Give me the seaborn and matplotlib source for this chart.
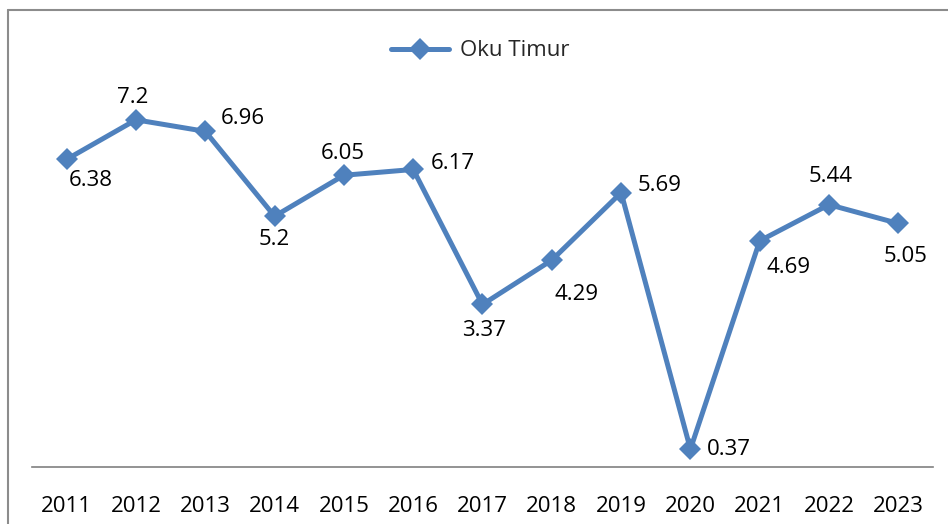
import pandas as pd
import numpy as np
import matplotlib.pyplot as plt
import seaborn as sns
from matplotlib.lines import Line2D

# data
years = ['2011', '2012', '2013', '2014', '2015', '2016', '2017',
         '2018', '2019', '2020', '2021', '2022', '2023']
values = [6.38, 7.2, 6.96, 5.2, 6.05, 6.17, 3.37, 4.29, 5.69, 0.37, 4.69, 5.44, 5.05]
series_name = 'Oku Timur'

# label offsets (points) and alignment
label_pos = [(17, -15, 'center'), (-2, 16, 'center'), (11, 9, 'left'),
             (0, -17, 'center'), (-1, 16, 'center'), (13, 4, 'left'),
             (1, -19, 'center'), (18, -25, 'center'), (12, 5, 'left'),
             (12, 0, 'left'), (21, -19, 'center'), (1, 20, 'center'),
             (5, -24, 'center')]

df = pd.DataFrame({'year': years, 'value': values, 'series': series_name})

sns.set_style('white')
plt.rcParams['font.family'] = ['Open Sans', 'DejaVu Sans']

color = '#4F81BD'
fig = plt.figure(figsize=(9.48, 5.24), dpi=100)
W, H = 948, 524
ax = fig.add_axes([32 / W, 1 - 467 / H, (933 - 32) / W, (467 - 33) / H])

sns.lineplot(data=df, x='year', y='value', hue='series', palette=[color],
             marker='D', markersize=11, linewidth=3.6, markeredgewidth=0,
             sort=False, ax=ax)

ax.set_xlim(-0.5, len(years) - 0.5)
ax.set_ylim(0, 9)
ax.set_xlabel('')
ax.set_ylabel('')
ax.set_yticks([])
ax.tick_params(axis='x', length=0, pad=21, labelsize=16, labelcolor='black')
for s in ['top', 'right', 'left']:
    ax.spines[s].set_visible(False)
ax.spines['bottom'].set_color('#808080')
ax.spines['bottom'].set_linewidth(1.2)

for i, (v, (dx, dy, ha)) in enumerate(zip(values, label_pos)):
    ax.annotate(f'{v:g}', (i, v), xytext=(dx, dy), textcoords='offset points',
                ha=ha, va='center', fontsize=16, color='black')

leg = ax.legend(loc='center', bbox_to_anchor=(480 / W, 1 - 51 / H),
                bbox_transform=fig.transFigure, frameon=False,
                fontsize=16, handlelength=2.6, handletextpad=0.5)

# outer chart frame (left and top edges)
fig.add_artist(Line2D([8 / W, 8 / W], [0, 1 - 10 / H], transform=fig.transFigure,
                      color='#8c8c8c', lw=1.5))
fig.add_artist(Line2D([8 / W, 1], [1 - 10 / H, 1 - 10 / H], transform=fig.transFigure,
                      color='#8c8c8c', lw=1.5))

fig.savefig('out.png', dpi=100)
